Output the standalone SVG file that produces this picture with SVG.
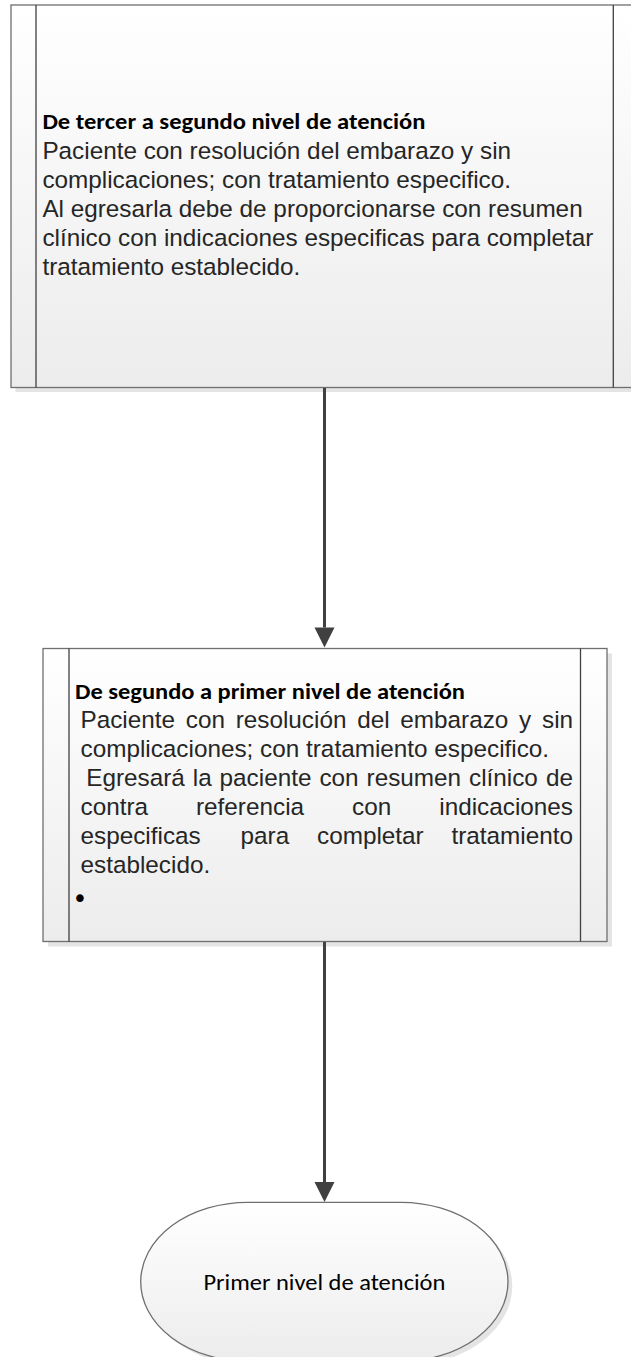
<svg xmlns="http://www.w3.org/2000/svg" width="631" height="1357" viewBox="0 0 631 1357">
<style>
.shadow{fill:#e4e4e4;stroke:none}
.box{fill:url(#fillg);stroke:#6f6f6f;stroke-width:1.3}
.inner{stroke:#404040;stroke-width:1.3;fill:none}
.hdr{font-family:Carlito,Lato,"Liberation Sans",sans-serif;font-weight:bold;font-size:23px;fill:#000}
.body{font-family:"Liberation Sans",Arial,sans-serif;font-size:24.3px;fill:#262626}
.term{font-family:Carlito,Lato,"Liberation Sans",sans-serif;font-size:23px;fill:#000}
.bullet{font-family:"DejaVu Sans",sans-serif;font-size:26px;fill:#000}
.conn{stroke:#404040;stroke-width:3;fill:none}
</style>
<defs>
<linearGradient id="fillg" x1="0" y1="0" x2="0" y2="1">
<stop offset="0" stop-color="#ffffff"/>
<stop offset="1" stop-color="#ececec"/>
</linearGradient>
<marker id="arrow" markerUnits="userSpaceOnUse" markerWidth="20" markerHeight="20" refX="0" refY="10" orient="auto" overflow="visible">
<path d="M0,0 L20,10 L0,20 Z" fill="#404040"/>
</marker>
</defs>
<rect width="631" height="1357" fill="#ffffff"/>

<g id="node-tercer-segundo">
<rect class="shadow" x="15.5" y="9.5" width="627" height="382.5"/>
<rect class="box" x="11" y="5" width="627" height="382.5"/>
<line class="inner" x1="36" y1="5" x2="36" y2="387.5"/>
<line class="inner" x1="613.3" y1="5" x2="613.3" y2="387.5"/>
<text class="hdr" x="42.4" y="128.8" textLength="383" lengthAdjust="spacingAndGlyphs">De tercer a segundo nivel de atención</text>
<text class="body" x="42.4" y="158.5">Paciente con resolución del embarazo y sin</text>
<text class="body" x="42.4" y="187.7">complicaciones; con tratamiento especifico.</text>
<text class="body" x="42.4" y="216.9">Al egresarla debe de proporcionarse con resumen</text>
<text class="body" x="42.4" y="246.1">clínico con indicaciones especificas para completar</text>
<text class="body" x="42.4" y="275.3">tratamiento establecido.</text>
</g>

<g id="node-segundo-primer">
<rect class="shadow" x="48" y="653.5" width="564" height="293"/>
<rect class="box" x="43" y="648.5" width="564" height="293"/>
<line class="inner" x1="69" y1="648.5" x2="69" y2="941.5"/>
<line class="inner" x1="580.5" y1="648.5" x2="580.5" y2="941.5"/>
<text class="hdr" x="75" y="698.5" textLength="390" lengthAdjust="spacingAndGlyphs">De segundo a primer nivel de atención</text>
<text class="body" y="728.3"><tspan x="80.5">Paciente</tspan><tspan x="185.8">con</tspan><tspan x="235.7">resolución</tspan><tspan x="357.2">del</tspan><tspan x="400.3">embarazo</tspan><tspan x="519.1">y</tspan><tspan x="542">sin</tspan></text>
<text class="body" x="80.5" y="757">complicaciones; con tratamiento especifico.</text>
<text class="body" y="786"><tspan x="86.2">Egresará</tspan><tspan x="192.8">la</tspan><tspan x="219.6">paciente</tspan><tspan x="319.4">con</tspan><tspan x="366.6">resumen</tspan><tspan x="469">clínico</tspan><tspan x="545.9">de</tspan></text>
<text class="body" y="815"><tspan x="80.5">contra</tspan><tspan x="196">referencia</tspan><tspan x="352.1">con</tspan><tspan x="439.3">indicaciones</tspan></text>
<text class="body" y="844"><tspan x="80.5">especificas</tspan><tspan x="240.6">para</tspan><tspan x="317">completar</tspan><tspan x="451.4">tratamiento</tspan></text>
<text class="body" x="80.5" y="873">establecido.</text>
<text class="bullet" x="80" y="907.5" text-anchor="middle">•</text>
</g>

<g id="node-primer-nivel">
<rect class="shadow" x="145" y="1206.5" width="367.3" height="159" rx="107" ry="79.5"/>
<rect class="box" x="140.7" y="1202.3" width="367.3" height="159" rx="107" ry="79.5" stroke="#5f5f5f" stroke-width="1"/>
<text class="term" x="324.4" y="1290" text-anchor="middle" textLength="242" lengthAdjust="spacingAndGlyphs">Primer nivel de atención</text>
</g>

<g id="connectors">
<line class="conn" x1="324.5" y1="388" x2="324.5" y2="627.5" marker-end="url(#arrow)"/>
<line class="conn" x1="324.5" y1="942" x2="324.5" y2="1182" marker-end="url(#arrow)"/>
</g>
</svg>
